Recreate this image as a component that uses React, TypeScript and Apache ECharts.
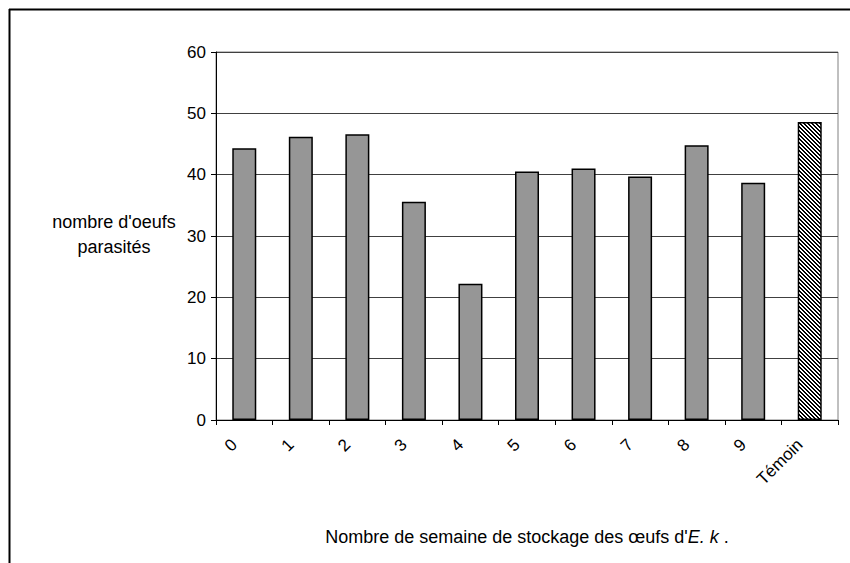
import React, { useEffect, useRef } from "react";
import * as echarts from "echarts";

const categories = ["0", "1", "2", "3", "4", "5", "6", "7", "8", "9", "Témoin"];
const values = [44.3, 46.2, 46.6, 35.6, 22.2, 40.5, 41.0, 39.7, 44.8, 38.7, 48.6];
const yTitleLines = ["nombre d'oeufs", "parasités"];
const xTitleStart = "Nombre de semaine de stockage des œufs d'";
const xTitleItalic = "E. k";
const xTitleEnd = " .";

const FONT = "'Liberation Sans', Arial, sans-serif";

function makeHatch(): string {
  const c = document.createElement("canvas");
  c.width = 4;
  c.height = 4;
  const ctx = c.getContext("2d")!;
  ctx.fillStyle = "#ffffff";
  ctx.fillRect(0, 0, 4, 4);
  ctx.fillStyle = "#000000";
  for (let i = 0; i < 4; i++) {
    ctx.fillRect(i, i, 1, 1);
    ctx.fillRect((i + 1) % 4, i, 1, 1);
  }
  return c.toDataURL();
}

export default function App() {
  const ref = useRef<HTMLDivElement>(null);
  useEffect(() => {
    if (!ref.current) return;
    const chart = echarts.init(ref.current, null, { renderer: "svg" });
    const hatch = makeHatch();
    const data = values.map((v, i) =>
      i === values.length - 1
        ? {
            value: v,
            itemStyle: {
              color: { image: hatch, repeat: "repeat" } as any,
            },
          }
        : v
    );
    chart.setOption({
      animation: false,
      backgroundColor: "#ffffff",
      textStyle: { fontFamily: FONT },
      grid: {
        left: 216,
        right: 12,
        top: 52,
        bottom: 143,
        show: true,
        borderColor: "#808080",
        borderWidth: 1,
      },
      xAxis: {
        type: "category",
        data: categories,
        axisLine: { lineStyle: { color: "#000", width: 1 } },
        axisTick: { show: true, length: 5, lineStyle: { color: "#000" } },
        axisLabel: {
          rotate: 45,
          margin: 12,
          padding: [0, 14, 0, 0],
          color: "#000",
          fontSize: 17,
          fontFamily: FONT,
        },
        splitLine: { show: false },
      },
      yAxis: {
        type: "value",
        min: 0,
        max: 60,
        interval: 10,
        axisLine: { show: true, lineStyle: { color: "#000", width: 1 } },
        axisTick: { show: true, length: 5, lineStyle: { color: "#000" } },
        axisLabel: { color: "#000", fontSize: 17, margin: 10, fontFamily: FONT },
        splitLine: { show: true, lineStyle: { color: "#404040", width: 1 } },
      },
      series: [
        {
          type: "bar",
          data,
          barWidth: 24,
          itemStyle: { color: "#969696", borderColor: "#000", borderWidth: 1.5 },
        },
      ],
      graphic: [
        {
          type: "line",
          shape: { x1: 9, y1: 9.5, x2: 850, y2: 9.5 },
          style: { stroke: "#000", lineWidth: 2 },
        },
        {
          type: "line",
          shape: { x1: 9.5, y1: 9, x2: 9.5, y2: 563 },
          style: { stroke: "#000", lineWidth: 2 },
        },
        {
          type: "text",
          x: 114,
          y: 234,
          style: {
            text: yTitleLines.join("\n"),
            fontSize: 18,
            fontFamily: FONT,
            fill: "#000",
            align: "center",
            verticalAlign: "middle",
            lineHeight: 25,
          },
        },
        {
          type: "text",
          x: 527,
          y: 537,
          style: {
            text: `${xTitleStart}{i|${xTitleItalic}}${xTitleEnd}`,
            fontSize: 18,
            fontFamily: FONT,
            fill: "#000",
            align: "center",
            verticalAlign: "middle",
            rich: {
              i: { fontStyle: "italic", fontSize: 18, fontFamily: FONT, fill: "#000" },
            },
          } as any,
        },
      ],
    });
    return () => chart.dispose();
  }, []);
  return (
    <div
      ref={ref}
      style={{ position: "fixed", left: 0, top: 0, width: 850, height: 563, background: "#fff" }}
    />
  );
}
